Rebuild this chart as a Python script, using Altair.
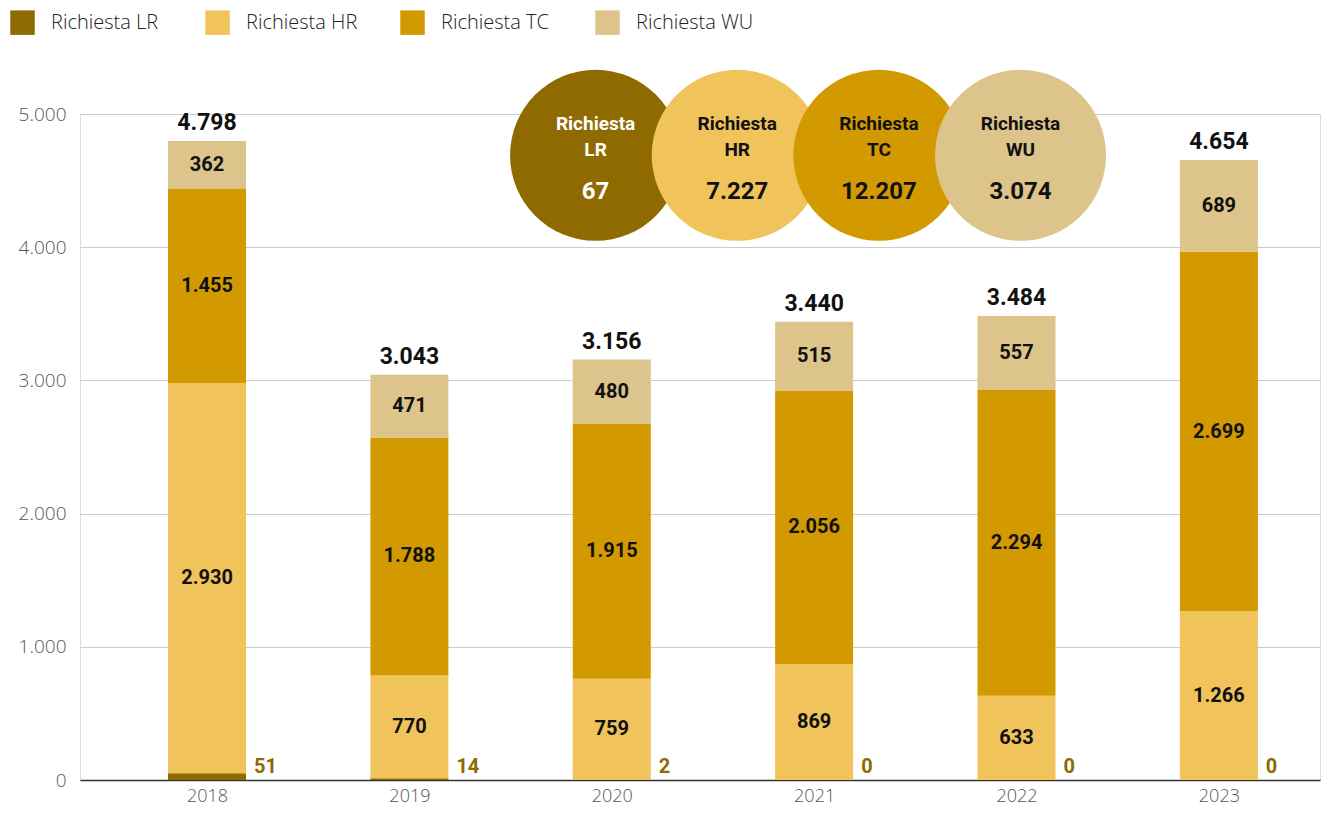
import altair as alt
import pandas as pd

# ---- data ----
years = [2018, 2019, 2020, 2021, 2022, 2023]
series = ["Richiesta LR", "Richiesta HR", "Richiesta TC", "Richiesta WU"]
lr = [51, 14, 2, 0, 0, 0]
hr = [2930, 770, 759, 869, 633, 1266]
tc = [1455, 1788, 1915, 2056, 2294, 2699]
wu = [362, 471, 480, 515, 557, 689]
totals = [4798, 3043, 3156, 3440, 3484, 4654]
bubble_codes = ["LR", "HR", "TC", "WU"]
bubble_totals = [67, 7227, 12207, 3074]
y_ticks = [0, 1000, 2000, 3000, 4000, 5000]

# ---- style / layout ----
colors = ["#8E6A00", "#F0C35B", "#D29A00", "#DCC48B"]
bubble_text_colors = ["#FFFFFF", "#111111", "#111111", "#111111"]
BUBBLE_X = [2019.92, 2020.62, 2021.32, 2022.02]
BUBBLE_Y = 4690
AX_FONT = "Open Sans"
NUM_FONT = "Roboto"
W, H = 1240, 666

rows = []
for i, y in enumerate(years):
    for k, (s, vals) in enumerate(zip(series, [lr, hr, tc, wu])):
        rows.append({"year": y, "serie": s, "value": vals[i], "ord": k})
df = pd.DataFrame(rows)
df_tot = pd.DataFrame({"year": years, "total": totals})
df_b = pd.DataFrame({
    "serie": series,
    "code": bubble_codes,
    "total": bubble_totals,
    "pos": BUBBLE_X,
    "level": [BUBBLE_Y] * 4,
    "tcol": bubble_text_colors,
})

fmt = "replace(format(datum.{f}, ','), ',', '.')"

xscale = alt.Scale(domain=[2017.397, 2023.475], nice=False, zero=False)
yscale = alt.Scale(domain=[0, 5000], nice=False)

x_axis = alt.Axis(
    values=years, format="d", title=None, grid=False, ticks=False,
    domainColor="#333333", domainWidth=1.5, labelFont=AX_FONT,
    labelFontSize=18, labelFontWeight=300, labelColor="#555555",
    labelPadding=7, labelAngle=0,
)
y_axis = alt.Axis(
    values=y_ticks, title=None, domain=False, ticks=False,
    gridColor="#CCCCCC", gridWidth=1, labelFont=AX_FONT, labelFontSize=19,
    labelFontWeight=300, labelColor="#555555", labelPadding=14,
    labelExpr="replace(format(datum.value, ','), ',', '.')",
)

base = alt.Chart(df)

bars = base.mark_bar(width=78).encode(
    x=alt.X("year:Q", scale=xscale, axis=x_axis),
    y=alt.Y("value:Q", stack="zero", scale=yscale, axis=y_axis),
    color=alt.Color(
        "serie:N",
        scale=alt.Scale(domain=series, range=colors),
        legend=alt.Legend(
            title=None, orient="none", legendX=-70, legendY=-104,
            direction="horizontal", symbolType="square", symbolSize=600,
            symbolStrokeWidth=0, labelFont=AX_FONT, labelFontSize=20,
            labelFontWeight=300, labelColor="#222222", labelOffset=16,
            gridAlign="all", columnPadding=36, padding=0,
        ),
    ),
    order=alt.Order("ord:Q"),
)

stacked = base.transform_stack(
    stack="value", as_=["v0", "v1"], groupby=["year"],
    sort=[alt.SortField("ord", order="ascending")],
).transform_calculate(
    mid="(datum.v0 + datum.v1) / 2",
    lbl=fmt.format(f="value"),
)

seg_labels = stacked.transform_filter("datum.ord > 0").mark_text(
    font=NUM_FONT, fontSize=20, fontWeight="bold", color="#111111",
).encode(x="year:Q", y="mid:Q", text="lbl:N")

lr_labels = stacked.transform_filter("datum.ord == 0").mark_text(
    font=NUM_FONT, fontSize=20, fontWeight="bold", color=colors[0],
    align="left", dx=47, dy=-13,
).encode(x="year:Q", y="v0:Q", text="lbl:N")

tot_labels = alt.Chart(df_tot).transform_calculate(
    lbl=fmt.format(f="total")
).mark_text(
    font=NUM_FONT, fontSize=23, fontWeight="bold", color="#111111",
    baseline="bottom", dy=-6,
).encode(x="year:Q", y="total:Q", text="lbl:N")

bchart = alt.Chart(df_b)
circles = bchart.mark_point(
    shape="circle", filled=True, opacity=1, size=171 * 171, strokeWidth=0,
).encode(
    x="pos:Q", y="level:Q",
    color=alt.Color("serie:N", legend=None),
)
t_rich = bchart.transform_calculate(w="'Richiesta'").mark_text(
    font=NUM_FONT, fontSize=19, fontWeight="bold", dy=-31,
).encode(x="pos:Q", y="level:Q", text="w:N",
         color=alt.Color("tcol:N", scale=None))
t_code = bchart.mark_text(
    font=NUM_FONT, fontSize=19, fontWeight="bold", dy=-5,
).encode(x="pos:Q", y="level:Q", text="code:N",
         color=alt.Color("tcol:N", scale=None))
t_val = bchart.transform_calculate(lbl=fmt.format(f="total")).mark_text(
    font=NUM_FONT, fontSize=24, fontWeight="bold", dy=37,
).encode(x="pos:Q", y="level:Q", text="lbl:N",
         color=alt.Color("tcol:N", scale=None))

chart = alt.layer(
    bars, seg_labels, lr_labels, tot_labels, circles, t_rich, t_code, t_val
).properties(
    width=W, height=H,
    autosize=alt.AutoSizeParams(type="none"),
    padding={"left": 72, "top": 106, "right": 3, "bottom": 32},
).configure_view(stroke=None).configure(background="white")

chart.save("out.html", embed_options={"renderer": "svg", "actions": False})
